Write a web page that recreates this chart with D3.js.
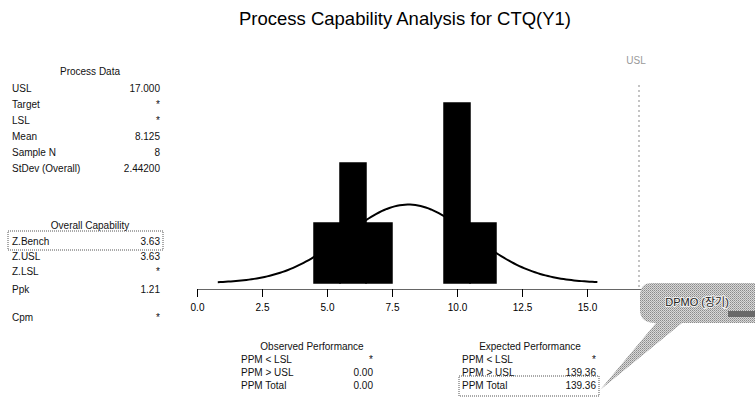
<!DOCTYPE html>
<html>
<head>
<meta charset="utf-8">
<script src="https://cdn.jsdelivr.net/npm/d3@7"></script>
<style>
  body { margin: 0; background: #fff; }
  svg { display: block; font-family: "Liberation Sans", Arial, sans-serif; }
  .small { font-size: 10px; fill: #111; }
</style>
</head>
<body>
<script>
// Process capability chart for CTQ(Y1)
var svgWidth = 755;
var svgHeight = 408;

// ---- data ----
var binEdges = [4.5, 5.5, 6.5, 7.5, 8.5, 9.5, 10.5, 11.5];
var binCounts = [1, 2, 1, 0, 0, 3, 1];
var usl = 17.0;
var mean = 8.125;
var stdev = 2.442;
var sampleN = 8;
var xTicks = [0, 2.5, 5, 7.5, 10, 12.5, 15, 17.5];

var processData = [
  ["USL", "17.000"], ["Target", "*"], ["LSL", "*"],
  ["Mean", "8.125"], ["Sample N", "8"], ["StDev (Overall)", "2.44200"]
];
var overallCap = [
  ["Z.Bench", "3.63"], ["Z.USL", "3.63"], ["Z.LSL", "*"], ["Ppk", "1.21"], ["Cpm", "*"]
];
var observedPerf = [["PPM < LSL", "*"], ["PPM > USL", "0.00"], ["PPM Total", "0.00"]];
var expectedPerf = [["PPM < LSL", "*"], ["PPM > USL", "139.36"], ["PPM Total", "139.36"]];

var svg = d3.select("body").append("svg")
  .attr("width", svgWidth)
  .attr("height", svgHeight);

// dither pattern for the callout
var defs = svg.append("defs");
var pat = defs.append("pattern")
  .attr("id", "dither")
  .attr("width", 2).attr("height", 2)
  .attr("patternUnits", "userSpaceOnUse");
pat.append("rect").attr("width", 2).attr("height", 2).attr("fill", "#d8d8d8");
pat.append("rect").attr("width", 1).attr("height", 1).attr("fill", "#8a8a8a");
pat.append("rect").attr("x", 1).attr("y", 1).attr("width", 1).attr("height", 1).attr("fill", "#a8a8a8");

// title
svg.append("text")
  .attr("x", 405).attr("y", 25)
  .attr("text-anchor", "middle")
  .attr("font-size", "18.5px")
  .attr("fill", "#000")
  .text("Process Capability Analysis for CTQ(Y1)");

// scales
var x = d3.scaleLinear().domain([0, 17.5]).range([197, 652]);
var y = d3.scaleLinear().domain([0, 3]).range([283, 103]);
var axisY = 289;

// histogram bars
var bins = binCounts.map(function(c, i) {
  return { x0: binEdges[i], x1: binEdges[i + 1], count: c };
});
svg.append("g").selectAll("rect")
  .data(bins)
  .enter()
  .append("rect")
  .attr("x", d => x(d.x0))
  .attr("y", d => y(d.count))
  .attr("width", d => x(d.x1) - x(d.x0))
  .attr("height", d => y(0) - y(d.count))
  .attr("fill", "#000")
  .attr("stroke", "#000")
  .attr("stroke-width", 1.5);

// fitted normal curve
var binW = binEdges[1] - binEdges[0];
var curvePts = d3.range(mean - 3 * stdev, mean + 3 * stdev + 0.01, 0.1).map(function(v) {
  var z = (v - mean) / stdev;
  return [v, sampleN * binW * Math.exp(-0.5 * z * z) / (stdev * Math.sqrt(2 * Math.PI))];
});
svg.append("path")
  .datum(curvePts)
  .attr("fill", "none")
  .attr("stroke", "#000")
  .attr("stroke-width", 2)
  .attr("d", d3.line().x(d => x(d[0])).y(d => y(d[1])));

// x axis
var xAxis = svg.append("g")
  .attr("transform", `translate(0, ${axisY})`)
  .call(d3.axisBottom(x).tickValues(xTicks).tickSize(8).tickSizeOuter(0)
    .tickFormat(d3.format(".1f")));
xAxis.select(".domain").attr("stroke", "#666");
xAxis.selectAll(".tick line").attr("stroke", "#000");
xAxis.selectAll("text")
  .attr("font-family", "Liberation Sans, Arial, sans-serif")
  .attr("font-size", "10px")
  .attr("fill", "#000")
  .attr("dy", "1.05em");

// USL reference line
svg.append("line")
  .attr("x1", x(usl)).attr("x2", x(usl))
  .attr("y1", 85).attr("y2", axisY)
  .attr("stroke", "#888")
  .attr("stroke-dasharray", "2,3");
svg.append("text")
  .attr("x", x(usl) - 3).attr("y", 64)
  .attr("text-anchor", "middle")
  .attr("font-size", "10px")
  .attr("fill", "#999")
  .text("USL");

// text tables
function table(rows, lx, rx, y0, step, ys) {
  var g = svg.append("g");
  rows.forEach(function(r, i) {
    var yy = ys ? ys[i] : y0 + i * step;
    g.append("text").attr("class", "small").attr("x", lx).attr("y", yy).text(r[0]);
    g.append("text").attr("class", "small").attr("x", rx).attr("y", yy)
      .attr("text-anchor", "end").text(r[1]);
  });
}
function heading(txt, cx, yy) {
  svg.append("text").attr("class", "small")
    .attr("x", cx).attr("y", yy).attr("text-anchor", "middle").text(txt);
}

heading("Process Data", 90, 75);
table(processData, 12, 160, 92, 16);

heading("Overall Capability", 90, 229);
table(overallCap, 12, 160, 0, 0, [245, 260, 275, 293, 321]);
svg.append("rect")
  .attr("x", 8).attr("y", 231).attr("width", 155).attr("height", 19)
  .attr("fill", "none").attr("stroke", "#555").attr("stroke-dasharray", "1,1");

heading("Observed Performance", 312, 350);
table(observedPerf, 241, 373, 363, 13);

heading("Expected Performance", 530, 350);
table(expectedPerf, 462, 596, 363, 13);
svg.append("rect")
  .attr("x", 459).attr("y", 376).attr("width", 140).attr("height", 20)
  .attr("fill", "none").attr("stroke", "#555").attr("stroke-dasharray", "1,1");

// DPMO callout
var bubble = d3.path();
bubble.moveTo(652, 283);
bubble.lineTo(755, 283);
bubble.lineTo(755, 323);
bubble.lineTo(682, 323);
bubble.lineTo(600, 390);
bubble.lineTo(656, 323);
bubble.quadraticCurveTo(640, 323, 640, 310);
bubble.lineTo(640, 296);
bubble.quadraticCurveTo(640, 283, 652, 283);
bubble.closePath();
svg.append("path")
  .attr("d", bubble.toString())
  .attr("fill", "url(#dither)");
svg.append("rect")
  .attr("x", 728).attr("y", 311).attr("width", 27).attr("height", 6)
  .attr("fill", "#6a6a6a");
svg.append("text")
  .attr("x", 697).attr("y", 306)
  .attr("text-anchor", "middle")
  .attr("font-family", "Liberation Sans, 'Noto Sans CJK KR', sans-serif")
  .attr("font-size", "11px")
  .attr("fill", "#222")
  .attr("stroke", "#eee").attr("stroke-width", 2).attr("paint-order", "stroke")
  .text("DPMO (장기)");
</script>
</body>
</html>
